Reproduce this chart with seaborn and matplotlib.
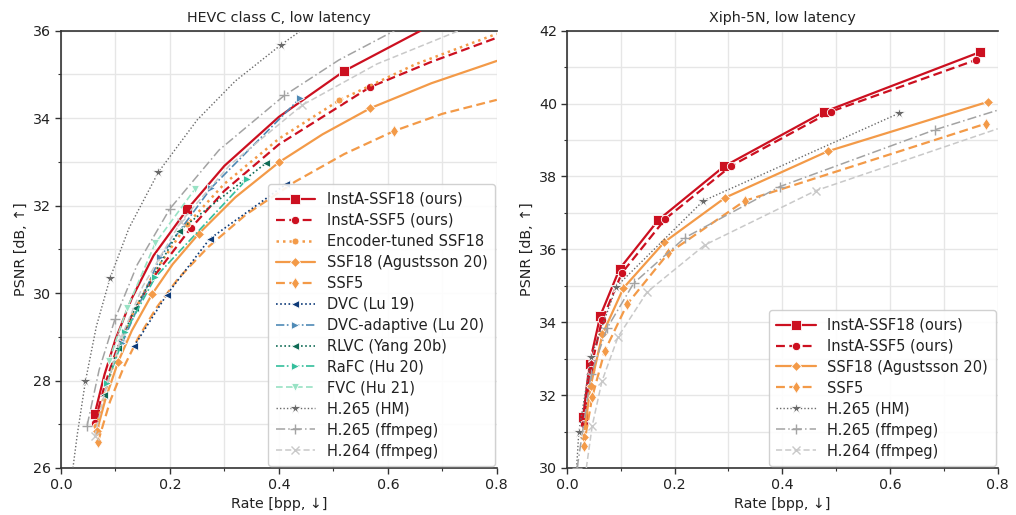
import matplotlib
matplotlib.use("Agg")
import matplotlib.pyplot as plt
import seaborn as sns
import pandas as pd
from matplotlib.ticker import MultipleLocator

# ---------------- HEVC class C, low latency ----------------
hevc_insta_ssf18_rate = [0.062, 0.08, 0.10, 0.13, 0.17, 0.232, 0.30, 0.40, 0.520, 0.66]
hevc_insta_ssf18_psnr = [27.24, 28.14, 28.94, 29.88, 30.86, 31.92, 32.91, 34.03, 35.08, 36.0]
hevc_insta_ssf18_marks = [0, 5, 8]

hevc_insta_ssf5_rate = [0.062, 0.08, 0.10, 0.13, 0.17, 0.238, 0.30, 0.40, 0.567, 0.68, 0.80]
hevc_insta_ssf5_psnr = [27.04, 27.88, 28.63, 29.49, 30.37, 31.48, 32.34, 33.40, 34.71, 35.29, 35.84]
hevc_insta_ssf5_marks = [0, 5, 8]

hevc_enc_ssf18_rate = [0.065, 0.08, 0.10, 0.13, 0.17, 0.232, 0.30, 0.40, 0.511, 0.65, 0.80]
hevc_enc_ssf18_psnr = [26.95, 27.71, 28.52, 29.47, 30.45, 31.58, 32.50, 33.53, 34.41, 35.23, 35.93]
hevc_enc_ssf18_marks = [0, 5, 8]

hevc_ssf18_rate = [0.066, 0.082, 0.105, 0.13, 0.167, 0.205, 0.253, 0.32, 0.400, 0.48, 0.568, 0.68, 0.80]
hevc_ssf18_psnr = [26.85, 27.59, 28.43, 29.14, 29.97, 30.66, 31.36, 32.19, 32.99, 33.63, 34.23, 34.80, 35.31]
hevc_ssf18_marks = [0, 2, 4, 6, 8, 10]

hevc_ssf5_rate = [0.068, 0.09, 0.115, 0.142, 0.175, 0.215, 0.27, 0.34, 0.43, 0.52, 0.612, 0.70, 0.80]
hevc_ssf5_psnr = [26.60, 27.52, 28.30, 28.98, 29.66, 30.33, 31.05, 31.80, 32.55, 33.18, 33.71, 34.10, 34.42]
hevc_ssf5_marks = [0, 10]

hevc_dvc_rate = [0.134, 0.194, 0.273, 0.413]
hevc_dvc_psnr = [28.78, 29.96, 31.24, 32.49]

hevc_dvc_adapt_rate = [0.112, 0.182, 0.276, 0.439]
hevc_dvc_adapt_psnr = [28.85, 30.82, 32.41, 34.46]

hevc_rlvc_rate = [0.079, 0.104, 0.136, 0.216, 0.377]
hevc_rlvc_psnr = [27.67, 28.75, 29.65, 31.42, 32.98]

hevc_rafc_rate = [0.085, 0.118, 0.173, 0.341]
hevc_rafc_psnr = [27.95, 29.10, 30.36, 32.60]

hevc_fvc_rate = [0.088, 0.122, 0.173, 0.246]
hevc_fvc_psnr = [28.45, 29.67, 31.14, 32.38]

hevc_hm_rate = [0.022, 0.03, 0.045, 0.065, 0.090, 0.125, 0.179, 0.25, 0.32, 0.404, 0.44]
hevc_hm_psnr = [26.0, 26.77, 27.99, 29.24, 30.34, 31.49, 32.77, 33.96, 34.85, 35.68, 36.0]
hevc_hm_marks = [2, 4, 6, 9]

hevc_x265_rate = [0.048, 0.07, 0.099, 0.14, 0.200, 0.29, 0.410, 0.51, 0.612]
hevc_x265_psnr = [26.97, 28.24, 29.40, 30.65, 31.93, 33.27, 34.52, 35.33, 36.0]
hevc_x265_marks = [0, 2, 4, 6]

hevc_x264_rate = [0.062, 0.08, 0.111, 0.15, 0.22, 0.31, 0.443, 0.58, 0.73]
hevc_x264_psnr = [26.72, 27.72, 29.00, 30.15, 31.63, 32.93, 34.30, 35.24, 36.0]
hevc_x264_marks = [0, 2, 4, 6]

# ---------------- Xiph-5N, low latency ----------------
xiph_insta_ssf18_rate = [0.030, 0.042, 0.062, 0.098, 0.170, 0.292, 0.477, 0.768]
xiph_insta_ssf18_psnr = [31.39, 32.86, 34.18, 35.47, 36.81, 38.28, 39.77, 41.42]

xiph_insta_ssf5_rate = [0.031, 0.044, 0.065, 0.102, 0.183, 0.305, 0.490, 0.760]
xiph_insta_ssf5_psnr = [31.20, 32.70, 34.05, 35.35, 36.84, 38.29, 39.78, 41.20]

xiph_ssf18_rate = [0.031, 0.044, 0.066, 0.105, 0.181, 0.294, 0.484, 0.782]
xiph_ssf18_psnr = [30.85, 32.25, 33.67, 34.94, 36.20, 37.42, 38.69, 40.05]

xiph_ssf5_rate = [0.031, 0.047, 0.070, 0.112, 0.188, 0.330, 0.778]
xiph_ssf5_psnr = [30.59, 31.95, 33.20, 34.50, 35.89, 37.33, 39.45]

xiph_hm_rate = [0.018, 0.022, 0.045, 0.092, 0.253, 0.616]
xiph_hm_psnr = [30.0, 30.98, 33.05, 34.98, 37.33, 39.73]
xiph_hm_marks = [1, 2, 3, 4, 5]

xiph_x265_rate = [0.019, 0.045, 0.075, 0.124, 0.219, 0.395, 0.683, 0.80]
xiph_x265_psnr = [30.0, 32.59, 33.85, 35.07, 36.32, 37.72, 39.28, 39.82]
xiph_x265_marks = [0, 1, 2, 3, 4, 5, 6]

xiph_x264_rate = [0.036, 0.047, 0.065, 0.095, 0.149, 0.256, 0.462, 0.80]
xiph_x264_psnr = [30.0, 31.16, 32.38, 33.60, 34.83, 36.12, 37.61, 39.31]
xiph_x264_marks = [1, 2, 3, 4, 5, 6]

titles = ["HEVC class C, low latency", "Xiph-5N, low latency"]
x_label = "Rate [bpp, \u2193]"
y_label = "PSNR [dB, \u2191]"

RED = "#cc1020"
ORANGE = "#f39a48"
NAVY = "#0d3a78"
STEEL = "#4f8ab6"
DGREEN = "#0f6b55"
TEAL = "#34bf9c"
MINT = "#98e2c4"
G1 = "#6a6a6a"
G2 = "#a3a3a3"
G3 = "#c9c9c9"

sns.set_theme(style="whitegrid")
plt.rcParams["font.family"] = ["DejaVu Sans"]

fig = plt.figure(figsize=(10.16, 5.15), dpi=100)
ax1 = fig.add_axes([0.060, 0.0913, 0.429, 0.849])
ax2 = fig.add_axes([0.558, 0.0913, 0.424, 0.849])


def draw(ax, rate, psnr, label, color, ls, marker, ms, lw, marks=None, mew=0.6):
    df = pd.DataFrame({"rate": rate, "psnr": psnr})
    sns.lineplot(data=df, x="rate", y="psnr", ax=ax, color=color, linestyle=ls,
                 linewidth=lw, marker=marker, markersize=ms,
                 markeredgecolor="white" if marker not in ("+", "x") else color,
                 markeredgewidth=mew if marker not in ("+", "x") else 1.0,
                 markevery=marks, label=label, estimator=None, sort=False,
                 zorder=3, clip_on=True)


# left
draw(ax1, hevc_insta_ssf18_rate, hevc_insta_ssf18_psnr, "InstA-SSF18 (ours)", RED, "-", "s", 6.5, 1.6, hevc_insta_ssf18_marks)
draw(ax1, hevc_insta_ssf5_rate, hevc_insta_ssf5_psnr, "InstA-SSF5 (ours)", RED, (0, (4, 2)), "o", 6, 1.6, hevc_insta_ssf5_marks)
draw(ax1, hevc_enc_ssf18_rate, hevc_enc_ssf18_psnr, "Encoder-tuned SSF18", ORANGE, (0, (1, 1.6)), "o", 5, 1.8, hevc_enc_ssf18_marks)
draw(ax1, hevc_ssf18_rate, hevc_ssf18_psnr, "SSF18 (Agustsson 20)", ORANGE, "-", "D", 5.5, 1.6, hevc_ssf18_marks)
draw(ax1, hevc_ssf5_rate, hevc_ssf5_psnr, "SSF5", ORANGE, (0, (4, 2)), "d", 6, 1.6, hevc_ssf5_marks)
draw(ax1, hevc_dvc_rate, hevc_dvc_psnr, "DVC (Lu 19)", NAVY, (0, (1, 1.5)), "<", 5.5, 1.2)
draw(ax1, hevc_dvc_adapt_rate, hevc_dvc_adapt_psnr, "DVC-adaptive (Lu 20)", STEEL, (0, (5, 1.5, 1, 1.5)), ">", 5.5, 1.2)
draw(ax1, hevc_rlvc_rate, hevc_rlvc_psnr, "RLVC (Yang 20b)", DGREEN, (0, (1, 1.5)), "<", 5.5, 1.2)
draw(ax1, hevc_rafc_rate, hevc_rafc_psnr, "RaFC (Hu 20)", TEAL, (0, (5, 1.5, 1, 1.5)), ">", 5.5, 1.2)
draw(ax1, hevc_fvc_rate, hevc_fvc_psnr, "FVC (Hu 21)", MINT, (0, (4, 2)), "v", 6, 1.2)
draw(ax1, hevc_hm_rate, hevc_hm_psnr, "H.265 (HM)", G1, (0, (1, 1.5)), "*", 8.5, 1.0, hevc_hm_marks)
draw(ax1, hevc_x265_rate, hevc_x265_psnr, "H.265 (ffmpeg)", G2, (0, (6, 2, 1, 2)), "+", 7, 1.1, hevc_x265_marks)
draw(ax1, hevc_x264_rate, hevc_x264_psnr, "H.264 (ffmpeg)", G3, (0, (4, 2)), "x", 5.5, 1.1, hevc_x264_marks)

# right
draw(ax2, xiph_insta_ssf18_rate, xiph_insta_ssf18_psnr, "InstA-SSF18 (ours)", RED, "-", "s", 6.5, 1.6)
draw(ax2, xiph_insta_ssf5_rate, xiph_insta_ssf5_psnr, "InstA-SSF5 (ours)", RED, (0, (4, 2)), "o", 6, 1.6)
draw(ax2, xiph_ssf18_rate, xiph_ssf18_psnr, "SSF18 (Agustsson 20)", ORANGE, "-", "D", 5.5, 1.6)
draw(ax2, xiph_ssf5_rate, xiph_ssf5_psnr, "SSF5", ORANGE, (0, (4, 2)), "d", 6, 1.6)
draw(ax2, xiph_hm_rate, xiph_hm_psnr, "H.265 (HM)", G1, (0, (1, 1.5)), "*", 8.5, 1.0, xiph_hm_marks)
draw(ax2, xiph_x265_rate, xiph_x265_psnr, "H.265 (ffmpeg)", G2, (0, (6, 2, 1, 2)), "+", 7, 1.1, xiph_x265_marks)
draw(ax2, xiph_x264_rate, xiph_x264_psnr, "H.264 (ffmpeg)", G3, (0, (4, 2)), "x", 5.5, 1.1, xiph_x264_marks)

for ax, title, ylim in [(ax1, titles[0], (26, 36)), (ax2, titles[1], (30, 42))]:
    ax.set_xlim(0, 0.8)
    ax.set_ylim(*ylim)
    ax.xaxis.set_major_locator(MultipleLocator(0.2))
    ax.xaxis.set_minor_locator(MultipleLocator(0.1))
    ax.yaxis.set_major_locator(MultipleLocator(2))
    ax.yaxis.set_minor_locator(MultipleLocator(1))
    ax.grid(True, which="both", color="#e6e6e6", linewidth=1.0)
    ax.set_axisbelow(True)
    ax.set_facecolor("white")
    ax.set_title(title, fontsize=10.3, color="#222222", pad=6)
    ax.set_xlabel(x_label, fontsize=10.3, color="#222222")
    ax.set_ylabel(y_label, fontsize=10.3, color="#222222")
    ax.tick_params(axis="both", which="major", labelsize=10.3, length=4, width=1,
                   color="#333333", labelcolor="#222222", bottom=True, left=True, direction="out", pad=3)
    ax.tick_params(axis="both", which="minor", length=2.5, width=0.8,
                   color="#333333", bottom=True, left=True, direction="out")
    for side in ["left", "bottom", "top"]:
        ax.spines[side].set_color("#333333")
        ax.spines[side].set_linewidth(1.2)
    ax.spines["right"].set_visible(False)
    leg = ax.legend(loc="lower right", fontsize=10.5, handlelength=2.7, frameon=True,
                    borderpad=0.5, labelspacing=0.41, handletextpad=0.8,
                    borderaxespad=0.15, fancybox=True)
    leg.get_frame().set_edgecolor("#cccccc")
    leg.get_frame().set_facecolor("white")
    leg.get_frame().set_alpha(0.9)
    for t in leg.get_texts():
        t.set_color("#222222")

fig.savefig("out.png", dpi=100)
